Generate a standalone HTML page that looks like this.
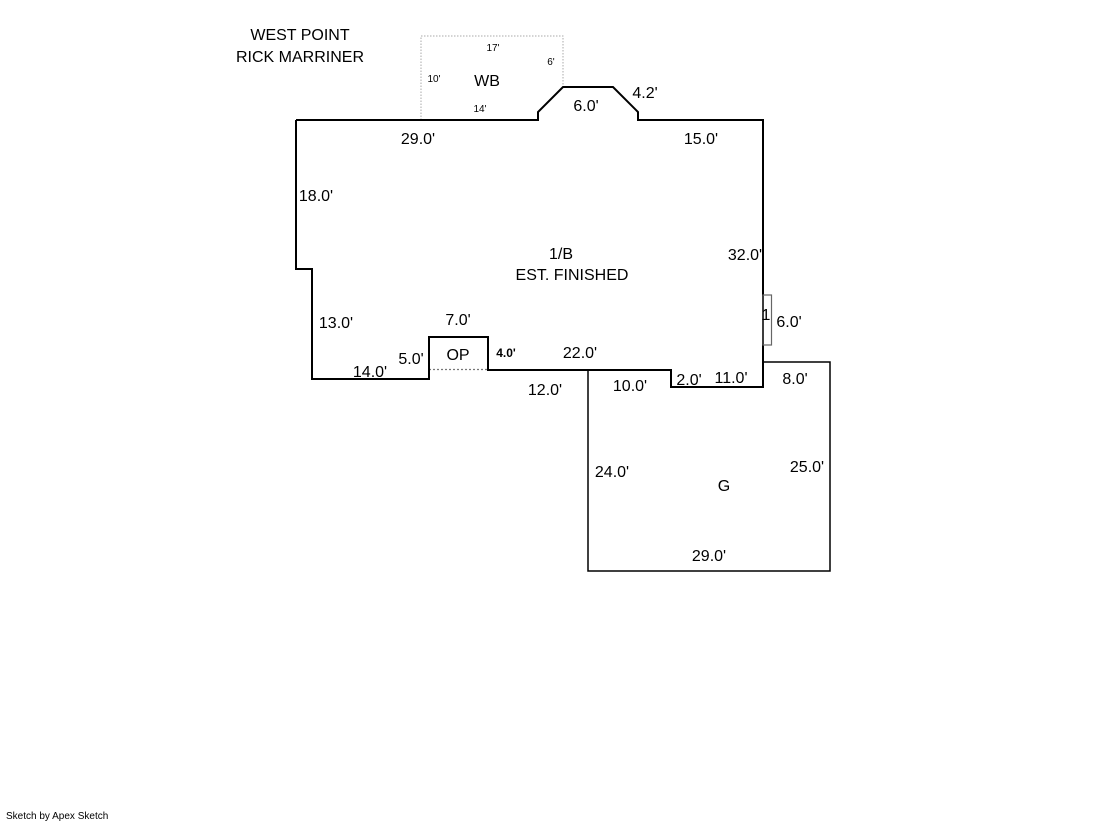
<!DOCTYPE html>
<html><head><meta charset="utf-8"><style>
html,body{margin:0;padding:0;background:#fff;}
svg{display:block;}
text{font-family:"Liberation Sans",Arial,sans-serif;fill:#000;}
</style></head><body>
<svg width="1119" height="821" viewBox="0 0 1119 821" xmlns="http://www.w3.org/2000/svg">
<!-- WB dotted -->
<polyline points="421,120 421,36 563,36 563,87" fill="none" stroke="#aaa" stroke-width="1" stroke-dasharray="1.5,1.5"/>
<!-- OP dotted -->
<line x1="429" y1="369.5" x2="488" y2="369.5" stroke="#777" stroke-width="1.2" stroke-dasharray="2,2"/>
<!-- main outline -->
<polyline points="296,120 538,120 538,112 563,87 613,87 638,112 638,120 763,120 763,387 671,387 671,370 488,370 488,337 429,337 429,379 312,379 312,269 296,269 296,120" fill="none" stroke="#000" stroke-width="2"/>
<!-- small rect -->
<rect x="763" y="295" width="8.5" height="50" fill="none" stroke="#666" stroke-width="1.2"/>
<!-- garage -->
<polyline points="588,370 588,571 830,571 830,362 763,362" fill="none" stroke="#000" stroke-width="1.5"/>

<g font-size="16">
<text x="300" y="40" text-anchor="middle">WEST POINT</text>
<text x="300" y="62" text-anchor="middle">RICK MARRINER</text>
<text x="487" y="86" text-anchor="middle">WB</text>
<text x="586" y="111" text-anchor="middle">6.0'</text>
<text x="645" y="98" text-anchor="middle">4.2'</text>
<text x="418" y="144" text-anchor="middle">29.0'</text>
<text x="701" y="144" text-anchor="middle">15.0'</text>
<text x="316" y="201" text-anchor="middle">18.0'</text>
<text x="561" y="259" text-anchor="middle">1/B</text>
<text x="572" y="280" text-anchor="middle">EST. FINISHED</text>
<text x="745" y="260" text-anchor="middle">32.0'</text>
<text x="336" y="328" text-anchor="middle">13.0'</text>
<text x="458" y="325" text-anchor="middle">7.0'</text>
<text x="458" y="360" text-anchor="middle">OP</text>
<text x="411" y="364" text-anchor="middle">5.0'</text>
<text x="370" y="377" text-anchor="middle">14.0'</text>
<text x="580" y="358" text-anchor="middle">22.0'</text>
<text x="545" y="395" text-anchor="middle">12.0'</text>
<text x="630" y="391" text-anchor="middle">10.0'</text>
<text x="689" y="385" text-anchor="middle">2.0'</text>
<text x="731" y="383" text-anchor="middle">11.0'</text>
<text x="795" y="384" text-anchor="middle">8.0'</text>
<text x="766" y="320" text-anchor="middle">1</text>
<text x="789" y="327" text-anchor="middle">6.0'</text>
<text x="612" y="477" text-anchor="middle">24.0'</text>
<text x="807" y="472" text-anchor="middle">25.0'</text>
<text x="724" y="491" text-anchor="middle">G</text>
<text x="709" y="561" text-anchor="middle">29.0'</text>
</g>
<text x="506" y="357" font-size="12" font-weight="bold" text-anchor="middle">4.0'</text>
<g font-size="10">
<text x="493" y="51" text-anchor="middle">17'</text>
<text x="551" y="65" text-anchor="middle">6'</text>
<text x="434" y="82" text-anchor="middle">10'</text>
<text x="480" y="112" text-anchor="middle">14'</text>
<text x="6" y="819" font-size="10">Sketch by Apex Sketch</text>
</g>
</svg>
</body></html>
